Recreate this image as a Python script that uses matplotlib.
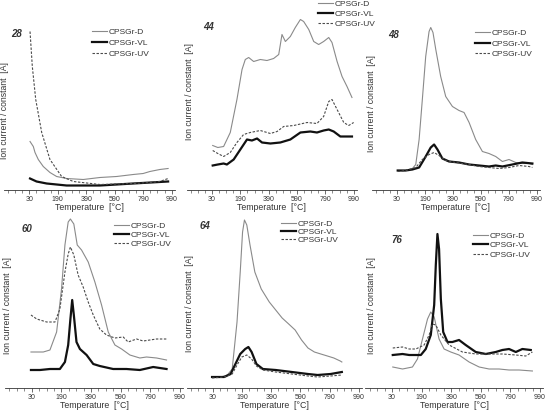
import numpy as np
import matplotlib
matplotlib.use('Agg')
import matplotlib.pyplot as plt
from matplotlib.ticker import AutoMinorLocator

plt.rcParams['font.family'] = ['Liberation Sans', 'DejaVu Sans']

# ──────────────────────────────────────────────
# data (temperature axis units, ion current in arbitrary units)
# ──────────────────────────────────────────────
TICK_POS = [-10, 190, 390, 590, 790, 990]
TICK_LABELS = ['30', '190', '390', '590', '790', '990']
SERIES = ['CPSGr-D', 'CPSGr-VL', 'CPSGr-UV']

# m/z 28
T28_D = [-5, 18, 30, 53, 88, 135, 182, 252, 369, 486, 603, 720, 790, 837, 907, 965]
I28_D = [49, 44, 38, 31, 24, 18, 14, 12, 11, 13, 14, 16, 17, 19, 21, 22]
T28_VL = [-5, 41, 112, 252, 486, 720, 965]
I28_VL = [12, 9, 7, 5, 5, 7, 9]
T28_UV = [-5, 11, 35, 77, 135, 217, 299, 486, 720, 837, 907, 965]
I28_UV = [159, 124, 91, 58, 31, 14, 9, 6, 7, 8, 9, 12]

# m/z 44
T44_D = [-5, 31, 72, 119, 166, 202, 225, 249, 284, 331, 378, 425, 461, 484, 508,
         543, 578, 614, 637, 673, 708, 743, 778, 814, 837, 873, 908, 943, 978]
I44_D = [45, 43, 44, 58, 91, 121, 131, 133, 129, 131, 130, 132, 136, 156, 149,
         154, 163, 171, 169, 161, 149, 146, 149, 153, 148, 129, 114, 104, 93]
T44_VL = [-5, 31, 72, 95, 143, 190, 237, 272, 308, 343, 402, 472, 543, 614, 684,
          731, 778, 814, 849, 896, 943, 978]
I44_VL = [25, 26, 27, 26, 31, 41, 51, 50, 52, 48, 47, 48, 51, 58, 59,
          58, 60, 61, 59, 54, 54, 54]
T44_UV = [-5, 31, 72, 119, 166, 213, 260, 331, 402, 449, 496, 567, 661, 731, 778,
          814, 837, 873, 920, 955, 990]
I44_UV = [40, 37, 34, 38, 48, 56, 58, 60, 57, 59, 64, 65, 68, 67, 74,
          89, 91, 81, 68, 65, 68]

# m/z 48
T48_D = [-5, 52, 100, 124, 148, 171, 195, 219, 231, 247, 267, 302, 338, 386, 433,
         469, 505, 552, 600, 647, 695, 743, 790, 838, 885, 933, 957]
I48_D = [20, 20, 22, 26, 51, 91, 134, 159, 163, 158, 141, 114, 94, 84, 80,
         78, 68, 51, 39, 37, 34, 29, 31, 28, 27, 27, 26]
T48_VL = [-5, 52, 100, 148, 195, 231, 255, 279, 314, 362, 433, 505, 576, 647, 695,
          743, 814, 885, 957]
I48_VL = [20, 20, 21, 23, 34, 43, 46, 41, 32, 29, 28, 26, 25, 24, 25,
          24, 26, 28, 27]
T48_UV = [-5, 52, 124, 171, 219, 255, 290, 338, 409, 505, 576, 647, 719, 790, 862,
          933, 957]
I48_UV = [19, 20, 23, 31, 36, 38, 35, 30, 28, 26, 24, 23, 22, 23, 25,
          24, 23]

# m/z 60
T60_D = [-15, 68, 113, 158, 191, 214, 236, 251, 274, 297, 326, 371, 416, 461, 506,
         551, 596, 652, 719, 764, 832, 899]
I60_D = [36, 36, 38, 56, 99, 143, 166, 169, 164, 143, 138, 126, 106, 83, 56,
         43, 39, 33, 30, 31, 30, 28]
T60_VL = [-15, 46, 113, 180, 214, 236, 251, 263, 274, 292, 315, 360, 405, 449, 539,
          629, 719, 809, 899]
I60_VL = [18, 18, 19, 19, 26, 43, 69, 88, 73, 46, 39, 33, 24, 22, 19,
          19, 18, 21, 19]
T60_UV = [-15, 24, 91, 147, 180, 214, 236, 251, 274, 303, 337, 371, 405, 449, 494,
          551, 607, 640, 697, 742, 787, 832, 899]
I60_UV = [73, 69, 66, 66, 79, 116, 134, 141, 133, 113, 101, 86, 73, 59, 53,
          50, 51, 46, 49, 47, 48, 49, 49]

# m/z 64
T64_D = [-15, 46, 90, 123, 156, 178, 194, 207, 223, 245, 278, 322, 377, 421, 465,
         510, 554, 598, 642, 686, 730, 775, 819, 863, 874]
I64_D = [11, 11, 13, 19, 66, 116, 156, 168, 163, 143, 116, 99, 86, 78, 70,
         64, 58, 48, 40, 36, 34, 32, 30, 27, 26]
T64_VL = [-15, 68, 112, 145, 178, 212, 234, 256, 289, 333, 421, 532, 642, 708, 797, 874]
I64_VL = [11, 11, 14, 24, 34, 39, 41, 36, 24, 19, 18, 16, 14, 13, 14, 16]
T64_UV = [-15, 68, 123, 156, 189, 223, 256, 289, 333, 421, 532, 642, 708, 797, 874]
I64_UV = [10, 11, 14, 23, 31, 33, 29, 22, 18, 16, 14, 12, 11, 12, 13]

# m/z 76
T76_D = [-5, 61, 128, 162, 196, 230, 252, 275, 308, 342, 387, 443, 511, 579, 646,
         714, 781, 849, 939]
I76_D = [21, 19, 21, 29, 49, 69, 76, 71, 49, 39, 36, 33, 26, 21, 19,
         19, 18, 18, 17]
T76_VL = [-5, 61, 106, 151, 185, 218, 252, 275, 286, 297, 308, 320, 336, 365, 398,
          443, 488, 556, 624, 691, 736, 781, 827, 871, 928]
I76_VL = [33, 34, 33, 33, 33, 39, 53, 83, 123, 154, 139, 89, 56, 46, 46,
          48, 43, 36, 34, 36, 38, 39, 36, 39, 38]
T76_UV = [-5, 61, 106, 151, 207, 241, 263, 286, 320, 376, 466, 556, 646, 736, 827,
          894, 939]
I76_UV = [40, 41, 39, 39, 43, 53, 64, 63, 53, 43, 36, 34, 34, 34, 33,
          32, 36]

# ──────────────────────────────────────────────
# layout (pixels in a 546 x 411 canvas)
# ──────────────────────────────────────────────
W, H = 546, 411
STYLE = {
    'CPSGr-D':  dict(color='#8a8a8a', lw=0.8, ls='-'),
    'CPSGr-VL': dict(color='#111111', lw=1.6, ls='-'),
    'CPSGr-UV': dict(color='#4a4a4a', lw=0.8, ls=(0, (2.2, 1.4))),
}

panels = [
    # mz, data, axes (left, right, top, bottom), ylabel (x, y), title (x, y), legend (x, y, spacing)
    ('28', [(T28_D, I28_D), (T28_VL, I28_VL), (T28_UV, I28_UV)],
     (3.7, 174.5, 5, 190.5), (5, 111), (17, 34), (92, 28, 0.4)),
    ('44', [(T44_D, I44_D), (T44_VL, I44_VL), (T44_UV, I44_UV)],
     (186.5, 356.5, 5, 190.5), (189, 92), (209, 27), (318, 0, 0.25)),
    ('48', [(T48_D, I48_D), (T48_VL, I48_VL), (T48_UV, I48_UV)],
     (371.8, 539.8, 5, 190.5), (371, 104), (394, 35), (475, 29, 0.35)),
    ('60', [(T60_D, I60_D), (T60_VL, I60_VL), (T60_UV, I60_UV)],
     (5, 183, 210, 388), (8, 306), (27, 229), (114, 222, 0.15)),
    ('64', [(T64_D, I64_D), (T64_VL, I64_VL), (T64_UV, I64_UV)],
     (186.5, 361.7, 210, 388), (189, 304), (205, 226), (281, 220, 0.0)),
    ('76', [(T76_D, I76_D), (T76_VL, I76_VL), (T76_UV, I76_UV)],
     (365.4, 542.9, 210, 388), (372, 306), (397, 240), (473, 232, 0.2)),
]

fig = plt.figure(figsize=(W / 100, H / 100), dpi=100)

for mz, data, (l, r, t, b), (yx, yy), (tx, ty), (lx, ly, lsp) in panels:
    ax = fig.add_axes([l / W, 1 - b / H, (r - l) / W, (b - t) / H])
    for name, (T, I) in zip(SERIES, data):
        ax.plot(T, I, label=name, **STYLE[name])

    ax.set_xlim(-190, 1010)
    ax.set_ylim(0, b - t)
    ax.set_xticks(TICK_POS)
    ax.set_xticklabels(TICK_LABELS)
    ax.xaxis.set_minor_locator(AutoMinorLocator(4))
    ax.set_yticks([])
    for s in ('left', 'right', 'top'):
        ax.spines[s].set_visible(False)
    ax.spines['bottom'].set_linewidth(0.6)
    ax.spines['bottom'].set_color('#333333')
    ax.tick_params(axis='x', which='major', length=3, width=0.5, pad=1,
                   labelsize=5, colors='#333333')
    ax.tick_params(axis='x', which='minor', length=1.8, width=0.4, colors='#333333')
    ax.patch.set_alpha(0)

    # axis labels
    fig.text(yx / W, 1 - yy / H, 'Ion current / constant  [A]', rotation=90,
             ha='center', va='center', fontsize=6.2, color='#333333')
    fig.text((l + r) / 2 / W, 1 - (b + 17) / H, 'Temperature  [°C]',
             ha='center', va='center', fontsize=6.3, color='#333333')

    # m/z number
    fig.text(tx / W, 1 - ty / H, mz, ha='center', va='center', fontsize=7,
             style='italic', weight='bold', color='#333333')

    ax.legend(loc='upper left', bbox_to_anchor=(lx / W, 1 - ly / H),
              bbox_transform=fig.transFigure, frameon=False, fontsize=6,
              handlelength=1.8, handletextpad=0.2, borderpad=0, borderaxespad=0,
              labelspacing=lsp, labelcolor='#333333')

fig.savefig('out.png', dpi=100)
plt.close(fig)
